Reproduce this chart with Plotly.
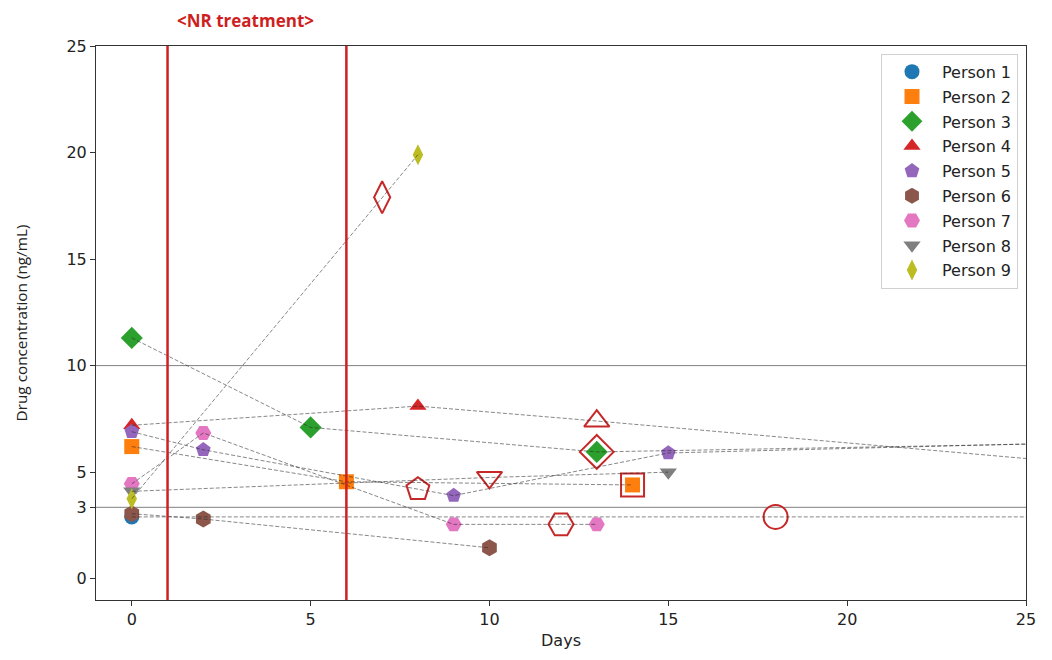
import plotly.graph_objects as go

# ---- data ----
persons = ["Person 1", "Person 2", "Person 3", "Person 4", "Person 5",
           "Person 6", "Person 7", "Person 8", "Person 9"]
colors = ["#1f77b4", "#ff7f0e", "#2ca02c", "#d62728", "#9467bd",
          "#8c564b", "#e377c2", "#7f7f7f", "#bcbd22"]
symbols = ["circle", "square", "diamond", "triangle-up", "pentagon",
           "hexagon", "hexagon2", "triangle-down", "diamond-tall"]

# marks: "f" filled marker, "o" open red ring only, "fo" both, "" line only
p1_days = [0, 18, 28]
p1_conc = [2.9, 2.9, 2.9]
p1_mark = ["f", "o", ""]

p2_days = [0, 6, 14]
p2_conc = [6.2, 4.55, 4.4]
p2_mark = ["f", "f", "fo"]

p3_days = [0, 5, 13, 28]
p3_conc = [11.3, 7.1, 5.95, 6.4]
p3_mark = ["f", "f", "fo", ""]

p4_days = [0, 8, 13, 28]
p4_conc = [7.2, 8.1, 7.4, 5.2]
p4_mark = ["f", "f", "o", ""]

p5_days = [0, 2, 8, 9, 15, 28]
p5_conc = [6.9, 6.05, 4.2, 3.9, 5.9, 6.45]
p5_mark = ["f", "f", "o", "f", "f", ""]

p6_days = [0, 2, 10]
p6_conc = [3.05, 2.8, 1.45]
p6_mark = ["f", "f", "f"]

p7_days = [0, 2, 9, 12, 13]
p7_conc = [4.45, 6.84, 2.55, 2.55, 2.55]
p7_mark = ["f", "f", "f", "o", "f"]

p8_days = [0, 10, 15]
p8_conc = [4.1, 4.75, 5.0]
p8_mark = ["f", "o", "f"]

p9_days = [0, 7, 8]
p9_conc = [3.75, 17.9, 19.9]
p9_mark = ["f", "o", "f"]

treatment_days = [1, 6]
# the reference draws its "3" level line/tick slightly above 3 on the scale
ref_levels = [3.35, 10]
x_ticks = [0, 5, 10, 15, 20, 25]
y_ticks = [0, 3.35, 5, 10, 15, 20, 25]
y_tick_labels = ["0", "3", "5", "10", "15", "20", "25"]

# ---- styles ----
filled_size = [15, 15, 17, 15, 15.5, 17, 16, 15, 15]
open_size = [24, 23, 26, 22, 24, 28, 25, 22, 23]
RING = "#c62828"
VRED = "#cf1f1f"
FONT = "DejaVu Sans"
FONT2 = "Open Sans"

series = [
    (p1_days, p1_conc, p1_mark), (p2_days, p2_conc, p2_mark),
    (p3_days, p3_conc, p3_mark), (p4_days, p4_conc, p4_mark),
    (p5_days, p5_conc, p5_mark), (p6_days, p6_conc, p6_mark),
    (p7_days, p7_conc, p7_mark), (p8_days, p8_conc, p8_mark),
    (p9_days, p9_conc, p9_mark),
]

fig = go.Figure()

# filled markers (with legend)
for i, (d, c, m) in enumerate(series):
    xs = [x for x, k in zip(d, m) if "f" in k]
    ys = [y for y, k in zip(c, m) if "f" in k]
    fig.add_trace(go.Scatter(
        x=xs, y=ys, mode="markers", name=persons[i], legendgroup=persons[i],
        marker=dict(symbol=symbols[i], size=filled_size[i], color=colors[i],
                    line=dict(width=0)),
    ))

# open red rings
for i, (d, c, m) in enumerate(series):
    xs = [x for x, k in zip(d, m) if "o" in k]
    ys = [y for y, k in zip(c, m) if "o" in k]
    if xs:
        fig.add_trace(go.Scatter(
            x=xs, y=ys, mode="markers", showlegend=False, legendgroup=persons[i],
            marker=dict(symbol=symbols[i] + "-open", size=open_size[i], color=RING,
                        line=dict(width=2, color=RING)),
        ))

# dashed connecting lines (drawn on top)
for i, (d, c, m) in enumerate(series):
    fig.add_trace(go.Scatter(
        x=d, y=c, mode="lines", showlegend=False, legendgroup=persons[i],
        line=dict(color="rgba(40,40,40,0.7)", width=0.8, dash="4px,2px"),
        cliponaxis=True, hoverinfo="skip",
    ))

shapes = []
for lv in ref_levels:
    shapes.append(dict(type="line", xref="paper", x0=0, x1=1, yref="y", y0=lv, y1=lv,
                       line=dict(color="#808080", width=1), layer="below"))
for td in treatment_days:
    shapes.append(dict(type="line", xref="x", x0=td, x1=td, yref="paper", y0=0, y1=1,
                       line=dict(color=VRED, width=2.5)))

fig.update_layout(
    width=1044, height=652,
    margin=dict(l=88, r=26, t=38, b=60),
    paper_bgcolor="white", plot_bgcolor="white",
    font=dict(family=FONT, size=16, color="#222"),
    shapes=shapes,
    showlegend=True,
    legend=dict(x=0.9914, y=0.986, xanchor="right", yanchor="top",
                bgcolor="white", bordercolor="#d0d0d0", borderwidth=1,
                font=dict(family=FONT, size=16, color="#222"),
                tracegroupgap=1, itemsizing="trace", itemwidth=50),
    annotations=[dict(text="<b>&lt;NR treatment&gt;</b>", xref="x", x=1.2, xanchor="left",
                      yref="paper", y=1.0, yshift=12, yanchor="bottom", showarrow=False,
                      font=dict(family=FONT2, size=17, color=VRED))],
)
fig.update_xaxes(range=[-1, 25], tickvals=x_ticks, showgrid=False, zeroline=False,
                 showline=True, linecolor="#333", linewidth=1, mirror=True,
                 ticks="outside", ticklen=5, tickcolor="#333",
                 title=dict(text="Days", standoff=6, font=dict(family=FONT, size=16)))
fig.update_yaxes(range=[-1, 25], tickvals=y_ticks, ticktext=y_tick_labels,
                 showgrid=False, zeroline=False,
                 showline=True, linecolor="#333", linewidth=1, mirror=True,
                 ticks="outside", ticklen=5, tickcolor="#333",
                 title=dict(text="Drug concentration (ng/mL)", standoff=35,
                            font=dict(family=FONT2, size=15.3)))

fig.write_html("out.html")
